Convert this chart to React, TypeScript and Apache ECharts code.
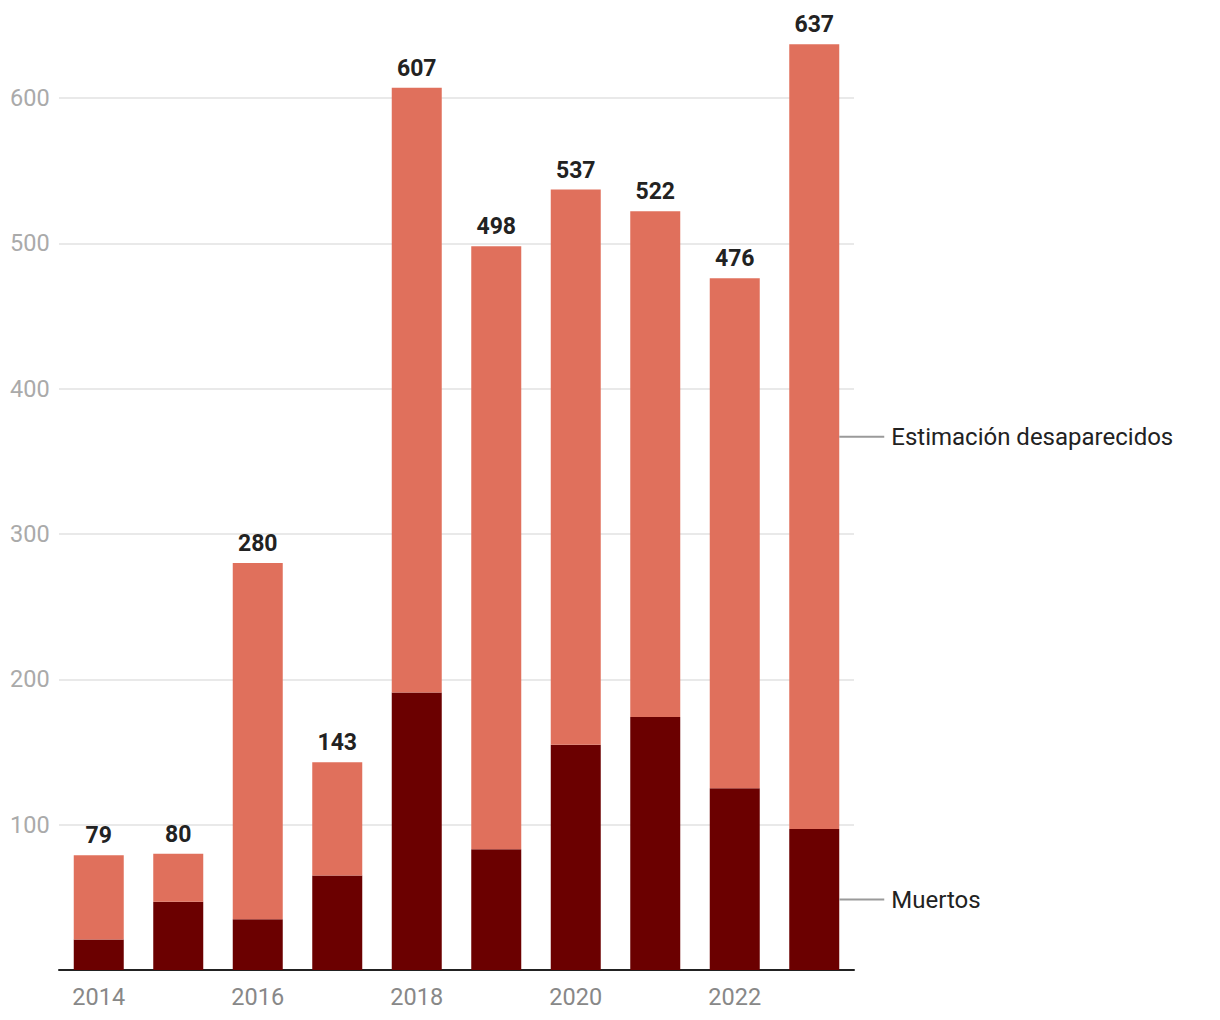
import React, { useEffect, useRef } from "react";
import * as echarts from "echarts";

const years = ["2014", "2015", "2016", "2017", "2018", "2019", "2020", "2021", "2022", "2023"];
const totals = [79, 80, 280, 143, 607, 498, 537, 522, 476, 637];
const muertos = [21, 47, 35, 65, 191, 83, 155, 174, 125, 97];
const desaparecidos = totals.map((t, i) => t - muertos[i]);
const zeros = years.map(() => 0);

const FONT = "Roboto";

function sideLabel(text: string) {
  return {
    show: true,
    position: "right",
    distance: 0,
    formatter: `{l|}{t|${text}}`,
    rich: {
      l: { width: 45, height: 2, backgroundColor: "#9a9a9a" },
      t: { fontSize: 24, color: "#222", fontFamily: FONT, padding: [0, 0, 0, 7] },
    },
  };
}

export default function App() {
  const ref = useRef<HTMLDivElement>(null);
  useEffect(() => {
    const chart = echarts.init(ref.current!, null, { renderer: "svg" });
    chart.setOption({
      animation: false,
      grid: { left: 59, right: 366, top: 98, bottom: 50 },
      xAxis: {
        type: "category",
        data: years,
        axisLine: { lineStyle: { color: "#222", width: 2 } },
        axisTick: { show: false },
        axisLabel: {
          interval: 1,
          fontSize: 23.5,
          color: "#888",
          fontFamily: FONT,
          margin: 15,
        },
      },
      yAxis: {
        type: "value",
        min: 0,
        max: 600,
        interval: 100,
        axisLine: { show: false },
        axisTick: { show: false },
        splitLine: { lineStyle: { color: "#e2e2e2", width: 1.5 } },
        axisLabel: {
          fontSize: 23.5,
          color: "#aaa",
          fontFamily: FONT,
          align: "left",
          margin: 49,
          formatter: (v: number) => (v === 0 ? "" : String(v)),
        },
      },
      series: [
        {
          name: "Muertos",
          type: "bar",
          stack: "s",
          clip: false,
          barWidth: 50,
          data: muertos.map((v, i) =>
            i === years.length - 1 ? { value: v, label: sideLabel("Muertos") } : v
          ),
          itemStyle: { color: "#6b0000" },
        },
        {
          name: "Estimación desaparecidos",
          type: "bar",
          stack: "s",
          clip: false,
          barWidth: 50,
          data: desaparecidos.map((v, i) =>
            i === years.length - 1 ? { value: v, label: sideLabel("Estimación desaparecidos") } : v
          ),
          itemStyle: { color: "#e0705c" },
        },
        {
          name: "total",
          type: "bar",
          stack: "s",
          clip: false,
          barWidth: 50,
          data: zeros,
          itemStyle: { color: "transparent" },
          label: {
            show: true,
            position: "top",
            distance: 8,
            fontSize: 23,
            fontWeight: "bold",
            color: "#222",
            fontFamily: FONT,
            formatter: (p: any) => String(totals[p.dataIndex]),
          },
        },
      ],
    });
    return () => chart.dispose();
  }, []);
  return (
    <div
      ref={ref}
      style={{ position: "fixed", left: 0, top: 0, width: 1220, height: 1020, background: "#fff" }}
    />
  );
}
